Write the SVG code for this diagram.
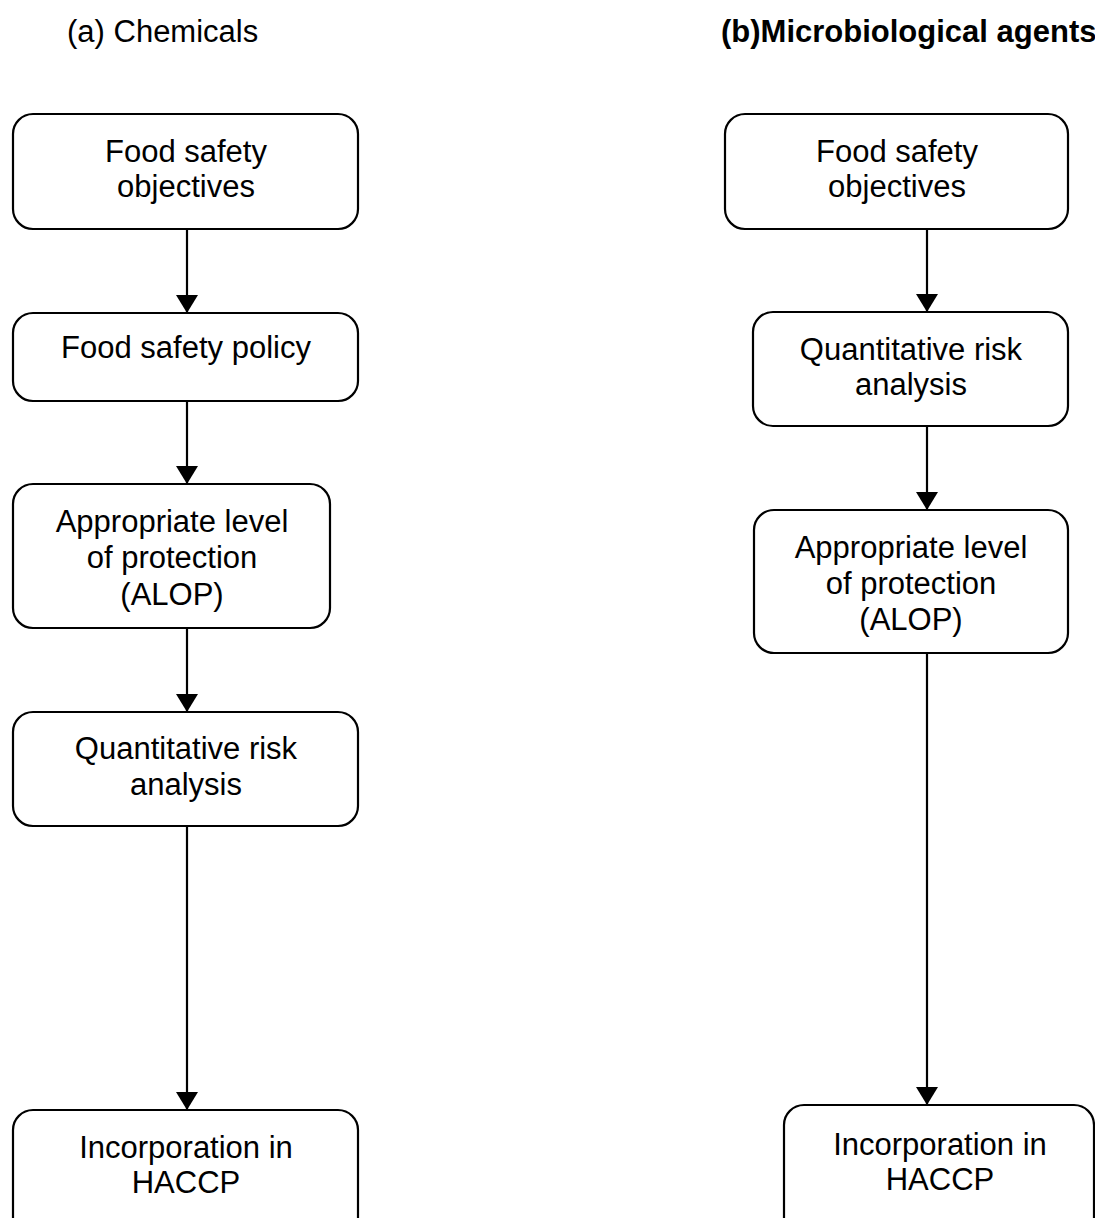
<svg xmlns="http://www.w3.org/2000/svg" width="1095" height="1218" viewBox="0 0 1095 1218">
<style>
.box{fill:#fff;stroke:#000;stroke-width:2.2}
.t{font-family:"Liberation Sans",Arial,sans-serif;font-size:31px;fill:#000;text-anchor:middle}
.title{font-family:"Liberation Sans",Arial,sans-serif;font-size:31px;fill:#000}
.edge{stroke:#000;stroke-width:2.2;fill:none;marker-end:url(#arr)}
</style>
<defs>
<marker id="arr" markerUnits="userSpaceOnUse" markerWidth="20" markerHeight="22" viewBox="0 0 20 22" refX="18" refY="11" orient="auto">
<path d="M0,0 L18,11 L0,22 z" fill="#000"/>
</marker>
</defs>
<rect width="1095" height="1218" fill="#fff"/>
<text class="title" x="67" y="42">(a) Chemicals</text>
<text class="title" x="721" y="42" font-weight="bold">(b)Microbiological agents</text>

<g id="connectors">
<line class="edge" x1="187" y1="229" x2="187" y2="313"/>
<line class="edge" x1="187" y1="401" x2="187" y2="484"/>
<line class="edge" x1="187" y1="628" x2="187" y2="712"/>
<line class="edge" x1="187" y1="826" x2="187" y2="1110"/>
<line class="edge" x1="927" y1="229" x2="927" y2="312"/>
<line class="edge" x1="927" y1="426" x2="927" y2="510"/>
<line class="edge" x1="927" y1="653" x2="927" y2="1105"/>
</g>

<g id="a1"><rect class="box" x="13" y="114" width="345" height="115" rx="20"/>
<text class="t" x="186" y="162">Food safety</text><text class="t" x="186" y="197">objectives</text></g>
<g id="a2"><rect class="box" x="13" y="313" width="345" height="88" rx="20"/>
<text class="t" x="186" y="358">Food safety policy</text></g>
<g id="a3"><rect class="box" x="13" y="484" width="317" height="144" rx="20"/>
<text class="t" x="172" y="532">Appropriate level</text><text class="t" x="172" y="568">of protection</text><text class="t" x="172" y="605">(ALOP)</text></g>
<g id="a4"><rect class="box" x="13" y="712" width="345" height="114" rx="20"/>
<text class="t" x="186" y="759">Quantitative risk</text><text class="t" x="186" y="795">analysis</text></g>
<g id="a5"><rect class="box" x="13" y="1110" width="345" height="130" rx="20"/>
<text class="t" x="186" y="1158">Incorporation in</text><text class="t" x="186" y="1193">HACCP</text></g>

<g id="b1"><rect class="box" x="725" y="114" width="343" height="115" rx="20"/>
<text class="t" x="897" y="162">Food safety</text><text class="t" x="897" y="197">objectives</text></g>
<g id="b2"><rect class="box" x="753" y="312" width="315" height="114" rx="20"/>
<text class="t" x="911" y="360">Quantitative risk</text><text class="t" x="911" y="395">analysis</text></g>
<g id="b3"><rect class="box" x="754" y="510" width="314" height="143" rx="20"/>
<text class="t" x="911" y="558">Appropriate level</text><text class="t" x="911" y="594">of protection</text><text class="t" x="911" y="630">(ALOP)</text></g>
<g id="b4"><rect class="box" x="784" y="1105" width="310" height="135" rx="20"/>
<text class="t" x="940" y="1155">Incorporation in</text><text class="t" x="940" y="1190">HACCP</text></g>
</svg>
